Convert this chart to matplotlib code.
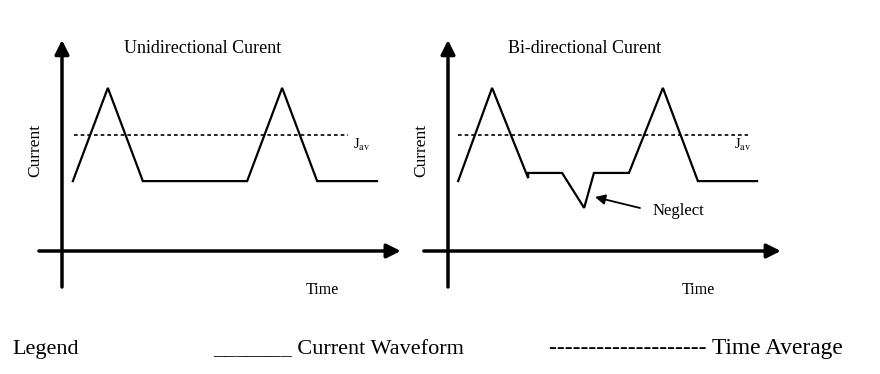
import matplotlib.pyplot as plt

plt.rcParams["font.family"] = ["Liberation Serif", "DejaVu Serif"]
plt.rcParams["mathtext.fontset"] = "stix"

# waveform data (time units, current units)
uni_t = [0.31, 1.31, 2.31, 5.29, 6.29, 7.29, 9.0]
uni_i = [3, 7, 3, 3, 7, 3, 3]

bi_t = [0.29, 1.26, 2.29, 2.29, 3.26, 3.89, 4.17, 5.17, 6.14, 7.14, 8.83]
bi_i = [3, 7, 3.13, 3.35, 3.35, 1.85, 3.35, 3.35, 7, 3, 3]

j_avg = 5.0
uni_avg_span = [0.34, 8.17]
bi_avg_span = [0.29, 8.57]

titles = ["Unidirectional Curent", "Bi-directional Curent"]

W, H = 880, 374
XS, YS = 35.0, 23.3   # px per unit


def fx(x):
    return x / W


def fy(y):
    return 1 - y / H


fig = plt.figure(figsize=(8.8, 3.74), dpi=100)


def make_panel(ox, box_x0, box_x1, h_ext, title, title_x):
    oy = 251
    top, bot = 30, 300
    ax = fig.add_axes([fx(box_x0), fy(bot), (box_x1 - box_x0) / W, (bot - top) / H])
    ax.set_xlim((box_x0 - ox) / XS, (box_x1 - ox) / XS)
    ax.set_ylim((oy - bot) / YS, (oy - top) / YS)
    ax.axis("off")
    arrow = dict(arrowstyle="-|>,head_length=0.6,head_width=0.3", lw=2.5,
                 color="black", shrinkA=0, shrinkB=0, mutation_scale=14)
    # axes with arrows
    ax.annotate("", xy=(h_ext[1], 0), xytext=(h_ext[0], 0), arrowprops=arrow)
    ax.annotate("", xy=(0, (oy - 40) / YS), xytext=(0, (oy - 287) / YS), arrowprops=arrow)
    fig.text(fx(title_x), fy(53), title, ha="center", va="baseline", fontsize=13)
    fig.text(fx(ox - 27), fy(150), "Current", rotation=90, ha="center", va="center", fontsize=12.5)
    return ax


ax1 = make_panel(62, 30, 410, [-0.66, 9.68], titles[0], 203)
ax2 = make_panel(448, 415, 790, [-0.69, 9.51], titles[1], 585)

ax1.plot(uni_t, uni_i, color="black", lw=1.6, solid_joinstyle="miter")
ax2.plot(bi_t, bi_i, color="black", lw=1.6, solid_joinstyle="miter")

for ax, span in [(ax1, uni_avg_span), (ax2, bi_avg_span)]:
    ax.plot(span, [j_avg, j_avg], color="black", lw=1.2, linestyle=(0, (2.2, 1.8)))

fig.text(fx(353), fy(149), r"J$_{\mathrm{av}}$", fontsize=10.5, va="baseline")
fig.text(fx(734), fy(149), r"J$_{\mathrm{av}}$", fontsize=10.5, va="baseline")

fig.text(fx(322), fy(294), "Time", ha="center", va="baseline", fontsize=11.5)
fig.text(fx(698), fy(294), "Time", ha="center", va="baseline", fontsize=11.5)

# neglect annotation
ax2.annotate("", xy=((595 - 448) / XS, (251 - 197) / YS), xytext=((640 - 448) / XS, (251 - 208) / YS),
             arrowprops=dict(arrowstyle="-|>,head_length=0.5,head_width=0.25", lw=1.3,
                             color="black", shrinkA=0, shrinkB=0, mutation_scale=12))
fig.text(fx(653), fy(215), "Neglect", va="baseline", fontsize=12)

# legend row
fig.text(fx(12), fy(354), "Legend", va="baseline", fontsize=16)
fig.text(fx(213), fy(354), "_______ Current Waveform", va="baseline", fontsize=16)
fig.text(fx(549), fy(354), "-------------------- Time Average", va="baseline", fontsize=16.8)

fig.savefig("out.png", dpi=100)
